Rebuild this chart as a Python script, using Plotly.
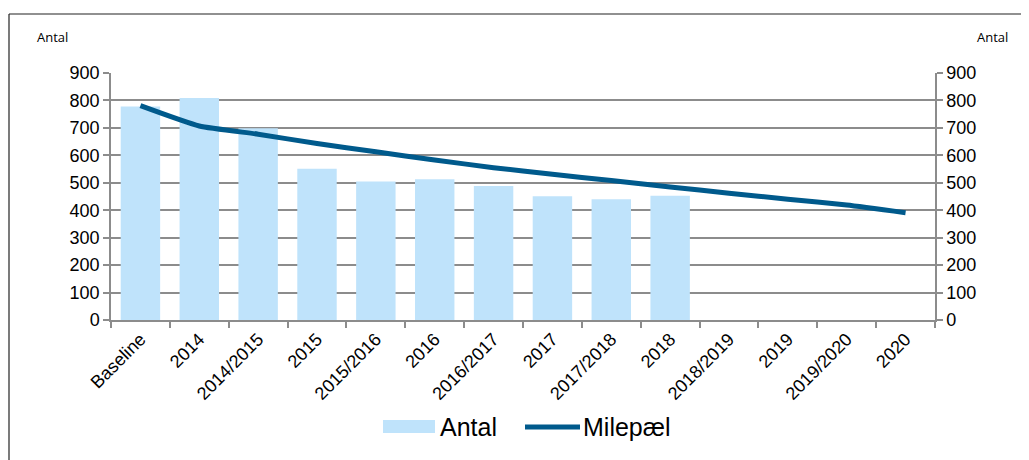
import plotly.graph_objects as go

categories = ["Baseline", "2014", "2014/2015", "2015", "2015/2016", "2016", "2016/2017",
              "2017", "2017/2018", "2018", "2018/2019", "2019", "2019/2020", "2020"]
antal = [778, 809, 699, 551, 505, 513, 488, 451, 440, 453, None, None, None, None]
milepael = [781, 707, 677, 643, 613, 583, 555, 531, 508, 485, 462, 440, 419, 391]
y_ticks = [0, 100, 200, 300, 400, 500, 600, 700, 800, 900]

BAR = "#BFE3FB"
LINE = "#005A8C"
GRID = "#8C8C8C"
FONT = "Liberation Sans, Arial, sans-serif"

fig = go.Figure()
fig.add_trace(go.Bar(x=categories, y=antal, name="Antal", marker_color=BAR,
                     marker_line_width=0, yaxis="y", showlegend=False))
fig.add_trace(go.Scatter(x=categories, y=milepael, name="Milepæl", mode="lines",
                         line=dict(color=LINE, width=5, shape="spline", smoothing=0.5),
                         yaxis="y2", showlegend=False))

W, H = 1029, 460
OFF = 8  # page body margin
# plot area in page pixels: left 111, right 935, top 73, bottom 320
L = 111 - OFF
T = 73 - OFF
pw = 935 - 111
ph = 320 - 73
R = W - L - pw
B = H - T - ph

def px(x):
    return (x - OFF - L) / pw

def py(y):
    return (T + ph - (y - OFF)) / ph

fig.update_layout(
    width=W, height=H,
    margin=dict(l=L, r=R, t=T, b=B, autoexpand=False),
    paper_bgcolor="white", plot_bgcolor="white",
    font=dict(family=FONT, color="black", size=18),
    bargap=0.33,
    showlegend=False,
    xaxis=dict(type="category", categoryorder="array", categoryarray=categories,
               tickangle=-45, tickfont=dict(size=18, family=FONT),
               showline=True, linecolor=GRID, linewidth=1.5,
               ticks="outside", tickson="boundaries", ticklen=6, tickcolor=GRID,
               tickwidth=1.5, showgrid=False, mirror=False),
    yaxis=dict(range=[0, 900], tickvals=y_ticks, showgrid=True, gridcolor=GRID,
               gridwidth=1.5, showline=True, linecolor=GRID, linewidth=1.5,
               ticks="outside", ticklen=6, tickcolor=GRID, tickwidth=1.5,
               tickfont=dict(size=18, family=FONT), zeroline=False),
    yaxis2=dict(range=[0, 900], tickvals=y_ticks, overlaying="y", side="right",
                showgrid=False, showline=True, linecolor=GRID, linewidth=1.5,
                ticks="outside", ticklen=6, tickcolor=GRID, tickwidth=1.5,
                tickfont=dict(size=18, family=FONT), zeroline=False),
    annotations=[
        dict(text="Antal", xref="paper", yref="paper", x=px(35), y=py(37),
             xanchor="left", yanchor="middle", showarrow=False,
             font=dict(size=13, family="Open Sans, sans-serif")),
        dict(text="Antal", xref="paper", yref="paper", x=px(975), y=py(37),
             xanchor="left", yanchor="middle", showarrow=False,
             font=dict(size=13, family="Open Sans, sans-serif")),
        dict(text="Antal", xref="paper", yref="paper", x=px(438), y=py(427),
             xanchor="left", yanchor="middle", showarrow=False,
             font=dict(size=25, family=FONT)),
        dict(text="Milepæl", xref="paper", yref="paper", x=px(581), y=py(427),
             xanchor="left", yanchor="middle", showarrow=False,
             font=dict(size=25, family=FONT)),
    ],
    shapes=[
        dict(type="line", xref="paper", yref="paper", x0=px(9), x1=px(1045),
             y0=py(14), y1=py(14), line=dict(color="#222222", width=1.2)),
        dict(type="line", xref="paper", yref="paper", x0=px(9), x1=px(9),
             y0=py(14), y1=py(475), line=dict(color="#222222", width=1.2)),
        dict(type="rect", xref="paper", yref="paper", x0=px(383), x1=px(435),
             y0=py(420), y1=py(433), fillcolor=BAR, line=dict(width=0)),
        dict(type="line", xref="paper", yref="paper", x0=px(525), x1=px(580),
             y0=py(427), y1=py(427), line=dict(color=LINE, width=5)),
    ],
)

fig.write_html("out.html")
